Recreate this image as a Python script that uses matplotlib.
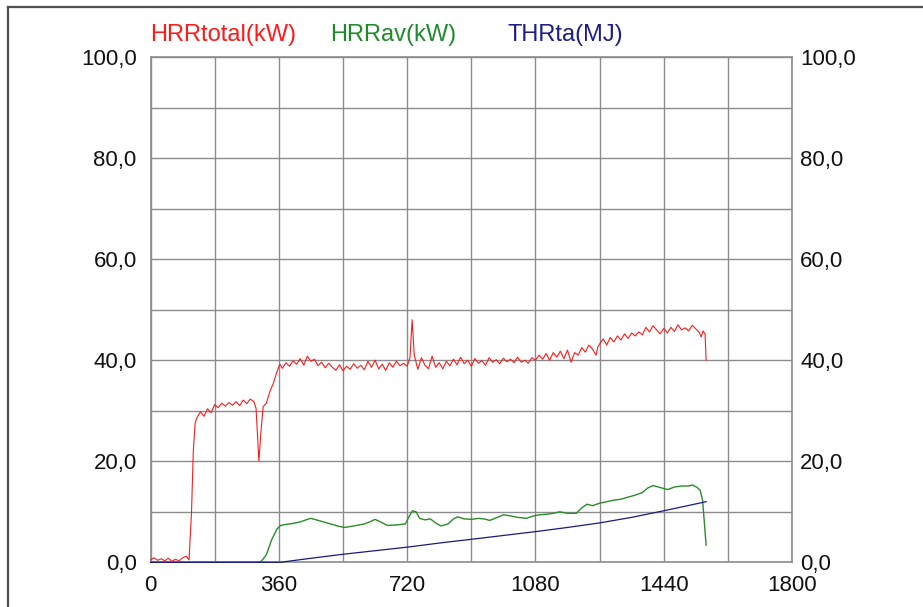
import numpy as np
import matplotlib
matplotlib.use("Agg")
import matplotlib.pyplot as plt
from matplotlib.ticker import MultipleLocator, FuncFormatter
from matplotlib.lines import Line2D

plt.rcParams['font.family'] = ['Liberation Sans', 'DejaVu Sans']

# HRRtotal (kW), red
t_hrr = [0, 10, 20, 30, 40, 50, 60, 70, 80, 90, 100, 108, 115, 120, 125, 130, 140, 150, 160, 170,
         180, 190, 200, 210, 220, 230, 240, 250, 260, 270, 280, 290, 296, 304, 310, 316, 325, 335, 345, 355,
         363, 370, 380, 390, 400, 410, 420, 430, 440, 450, 460, 470, 480, 490, 500, 510, 520, 530, 540, 550,
         560, 570, 580, 590, 600, 610, 620, 630, 640, 650, 660, 670, 680, 690, 700, 710, 720, 728, 734, 740,
         750, 760, 770, 780, 790, 800, 810, 820, 830, 840, 850, 860, 870, 880, 890, 900, 910, 920, 930, 940,
         950, 960, 970, 980, 990, 1000, 1010, 1020, 1030, 1040, 1050, 1060, 1070, 1080, 1090, 1100, 1110, 1120, 1130, 1140,
         1150, 1160, 1170, 1180, 1190, 1200, 1210, 1220, 1230, 1240, 1250, 1255, 1260, 1270, 1280, 1290, 1300, 1310, 1320, 1330,
         1340, 1350, 1360, 1370, 1380, 1390, 1400, 1410, 1420, 1430, 1440, 1450, 1460, 1470, 1480, 1490, 1500, 1510, 1520, 1530,
         1540, 1545, 1550, 1556, 1559]
hrr_total = [0.5, 0.9, 0.4, 0.7, 0.3, 0.8, 0.2, 0.6, 0.3, 0.9, 1.2, 0.5, 10.0, 22.0, 27.5, 28.6, 29.8, 28.9, 30.4, 29.6,
             31.2, 30.6, 31.5, 30.9, 31.6, 31.1, 31.8, 31.0, 32.1, 31.4, 32.3, 31.8, 30.5, 20.0, 26.0, 30.8, 31.5, 33.8, 35.5, 37.8,
             39.2, 38.4, 39.5, 38.8, 39.9, 39.2, 40.3, 39.0, 40.8, 39.8, 40.2, 38.9, 39.6, 38.5, 39.4, 38.6, 38.0, 39.1, 37.9, 38.8,
             38.2, 39.3, 38.4, 39.0, 38.1, 39.8, 38.6, 40.0, 38.3, 39.2, 38.0, 39.5, 38.6, 39.8, 38.9, 39.4, 38.8, 40.5, 48.0, 41.0,
             38.2, 40.5, 39.0, 38.3, 40.8, 38.6, 39.5, 38.3, 39.8, 38.9, 40.2, 39.1, 40.6, 39.3, 40.0, 38.8, 40.3, 39.4, 39.9, 39.0,
             40.5, 39.6, 40.1, 39.3, 40.4, 39.7, 40.2, 39.5, 40.6, 39.6, 40.0, 39.4, 40.5, 40.0, 41.0, 40.2, 41.3, 40.0, 41.5, 40.6,
             41.8, 40.3, 42.0, 39.6, 41.5, 41.0, 42.5, 41.6, 43.0, 42.2, 41.0, 42.6, 43.2, 44.2, 43.0, 44.5, 43.6, 44.8, 44.0, 45.2,
             44.3, 45.4, 44.8, 45.6, 45.0, 46.5, 45.6, 46.8, 46.0, 45.2, 46.3, 45.4, 46.5, 45.7, 47.0, 46.0, 46.4, 45.8, 46.9, 46.2,
             45.5, 44.6, 45.8, 45.2, 40.0]

# HRRav (kW), green
t_av = [0, 300, 311, 325, 340, 355, 365, 380, 400, 420, 440, 450, 470, 500, 530, 545, 570, 600, 615, 630,
        645, 665, 690, 715, 725, 735, 745, 755, 770, 785, 800, 815, 835, 850, 862, 880, 900, 920, 935, 952,
        970, 990, 1010, 1030, 1055, 1070, 1090, 1110, 1130, 1148, 1170, 1195, 1210, 1225, 1240, 1260, 1280, 1300, 1320, 1340,
        1360, 1380, 1395, 1410, 1430, 1451, 1470, 1490, 1510, 1520, 1532, 1542, 1549, 1559]
hrr_av = [0, 0, 0.2, 1.5, 4.5, 6.6, 7.3, 7.5, 7.7, 8.0, 8.5, 8.7, 8.3, 7.7, 7.1, 6.9, 7.2, 7.6, 8.0, 8.5,
          8.0, 7.3, 7.4, 7.6, 9.0, 10.2, 10.0, 8.7, 8.4, 8.6, 7.8, 7.2, 7.6, 8.6, 9.0, 8.6, 8.5, 8.7, 8.6, 8.3,
          8.8, 9.4, 9.2, 8.9, 8.7, 9.1, 9.4, 9.5, 9.7, 10.0, 9.7, 9.7, 10.8, 11.5, 11.2, 11.7, 12.0, 12.3, 12.5, 12.9,
          13.3, 13.8, 14.7, 15.2, 14.8, 14.4, 14.9, 15.1, 15.1, 15.3, 14.9, 14.3, 12.3, 3.4]

# THRta (MJ), navy
t_thr = [0, 363, 450, 541, 630, 720, 820, 924, 1000, 1083, 1170, 1260, 1350, 1440, 1500, 1559]
thr = [0, 0, 0.8, 1.6, 2.3, 3.0, 3.9, 4.75, 5.4, 6.1, 6.9, 7.8, 8.9, 10.2, 11.1, 12.0]

x_ticks = [0, 360, 720, 1080, 1440, 1800]
y_ticks = [0, 20, 40, 60, 80, 100]

fig = plt.figure(figsize=(9.23, 6.07), dpi=100)
ax = fig.add_axes([0.1631, 0.0736, 0.6950, 0.8325])

grid_c = "#8c8c8c"
ax.plot(t_hrr, hrr_total, color="#ff1a1a", lw=0.8, zorder=3, clip_on=False)
ax.plot(t_av, hrr_av, color="#2a8c2a", lw=1.0, zorder=4, clip_on=False)
ax.plot(t_thr, thr, color="#1a1a80", lw=0.9, zorder=5, clip_on=False)

ax.set_xlim(0, 1800)
ax.set_ylim(0, 100)
ax.set_xticks(x_ticks)
ax.set_yticks(y_ticks)
ax.xaxis.set_minor_locator(MultipleLocator(180))
ax.yaxis.set_minor_locator(MultipleLocator(10))
ax.grid(True, which="both", color=grid_c, lw=1.0)
ax.set_axisbelow(True)
fmt = FuncFormatter(lambda v, p: f"{v:.1f}".replace(".", ","))
ax.yaxis.set_major_formatter(fmt)
ax.tick_params(which="both", length=0, labelsize=16, colors="#111111")
ax.tick_params(axis="x", pad=9)
ax.tick_params(axis="y", pad=10)
for s in ax.spines.values():
    s.set_color(grid_c)
    s.set_linewidth(1.2)
    s.set_zorder(2)

ax2 = ax.twinx()
ax2.set_ylim(0, 100)
ax2.set_yticks(y_ticks)
ax2.yaxis.set_major_formatter(fmt)
ax2.tick_params(length=0, labelsize=16, pad=6, colors="#111111")
for s in ax2.spines.values():
    s.set_visible(False)
ax.set_zorder(ax2.get_zorder() + 1)
ax.patch.set_visible(False)

# legend as coloured labels above the plot
fig.text(150 / 923, 1 - 35 / 607, "HRRtotal(kW)", color="#ff1a1a", fontsize=17, va="center")
fig.text(330 / 923, 1 - 35 / 607, "HRRav(kW)", color="#1f8a2a", fontsize=17, va="center")
fig.text(507 / 923, 1 - 35 / 607, "THRta(MJ)", color="#1c1c8c", fontsize=17, va="center")

# outer frame
fig.add_artist(Line2D([8 / 923, 1], [1 - 7 / 607, 1 - 7 / 607], transform=fig.transFigure, color="#505050", lw=1.6))
fig.add_artist(Line2D([8 / 923, 8 / 923], [0, 1 - 7 / 607], transform=fig.transFigure, color="#505050", lw=1.6))

fig.savefig("out.png", dpi=100)
